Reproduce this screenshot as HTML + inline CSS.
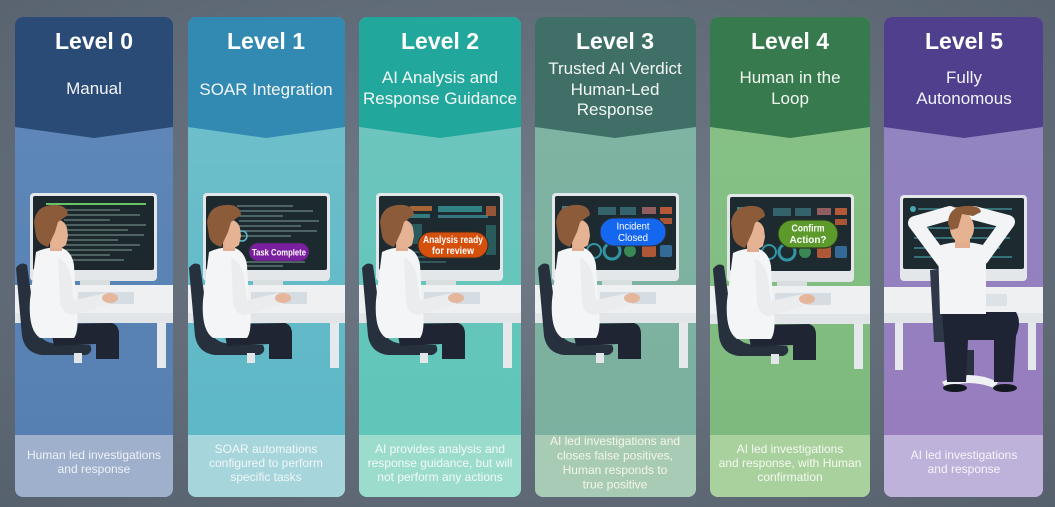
<!DOCTYPE html>
<html><head><meta charset="utf-8"><style>
html,body{margin:0;padding:0;background:#5f6a76;}
svg{display:block;}
text{font-family:"Liberation Sans",Arial,sans-serif;}
</style></head><body>
<svg width="1055" height="507" viewBox="0 0 1055 507" xmlns="http://www.w3.org/2000/svg">
<defs>
<radialGradient id="bg" cx="0.5" cy="0.45" r="0.75">
<stop offset="0" stop-color="#717c88"/><stop offset="1" stop-color="#56616d"/>
</radialGradient>
<clipPath id="k0"><rect x="15" y="17" width="158" height="480" rx="8"/></clipPath>
<clipPath id="k1"><rect x="188" y="17" width="157" height="480" rx="8"/></clipPath>
<clipPath id="k2"><rect x="359" y="17" width="162" height="480" rx="8"/></clipPath>
<clipPath id="k3"><rect x="535" y="17" width="161" height="480" rx="8"/></clipPath>
<clipPath id="k4"><rect x="710" y="17" width="160" height="480" rx="8"/></clipPath>
<clipPath id="k5"><rect x="884" y="17" width="159" height="480" rx="8"/></clipPath>
<linearGradient id="b0" x1="0" y1="0" x2="0" y2="1"><stop offset="0" stop-color="#6189bb"/><stop offset="1" stop-color="#547fb0"/></linearGradient>
<linearGradient id="b1" x1="0" y1="0" x2="0" y2="1"><stop offset="0" stop-color="#72c1cb"/><stop offset="1" stop-color="#5ab6c6"/></linearGradient>
<linearGradient id="b2" x1="0" y1="0" x2="0" y2="1"><stop offset="0" stop-color="#72c5bf"/><stop offset="1" stop-color="#5cc6b8"/></linearGradient>
<linearGradient id="b3" x1="0" y1="0" x2="0" y2="1"><stop offset="0" stop-color="#80b4a3"/><stop offset="1" stop-color="#7bb09f"/></linearGradient>
<linearGradient id="b4" x1="0" y1="0" x2="0" y2="1"><stop offset="0" stop-color="#89c388"/><stop offset="1" stop-color="#7cb87b"/></linearGradient>
<linearGradient id="b5" x1="0" y1="0" x2="0" y2="1"><stop offset="0" stop-color="#8e87c1"/><stop offset="1" stop-color="#9a7bbe"/></linearGradient>
</defs>
<rect width="1055" height="507" fill="url(#bg)"/>

<!-- ============ COLUMN 0 ============ -->
<g clip-path="url(#k0)">
<rect x="15" y="17" width="158" height="480" fill="url(#b0)"/>
<polygon points="15,17 173,17 173,127 94,138 15,127" fill="#2b4b77"/>
<rect x="15" y="435" width="158" height="62" fill="#9eb0cb"/>
<g>
<rect x="30" y="193" width="127" height="88" rx="4" fill="#e3e7ea"/>
<rect x="33" y="196" width="121" height="74" rx="2" fill="#1c282e"/>
<line x1="46" y1="204" x2="146" y2="204" stroke="#66c566" stroke-width="2"/>
<g stroke="#8fb0a0" stroke-width="1.2" opacity="0.7">
<line x1="64" y1="210" x2="120" y2="210"/><line x1="64" y1="215" x2="140" y2="215"/><line x1="64" y1="220" x2="110" y2="220"/><line x1="66" y1="225" x2="146" y2="225"/><line x1="66" y1="230" x2="128" y2="230"/><line x1="66" y1="235" x2="144" y2="235"/><line x1="66" y1="240" x2="118" y2="240"/><line x1="66" y1="245" x2="140" y2="245"/><line x1="66" y1="250" x2="132" y2="250"/><line x1="66" y1="255" x2="110" y2="255"/><line x1="66" y1="260" x2="124" y2="260"/>
</g>
<rect x="80" y="280" width="30" height="7" fill="#d8dde0"/>
<rect x="0" y="285" width="190" height="38" fill="#eef0f1"/>
<rect x="0" y="313" width="190" height="10" fill="#e1e5e7"/>
<rect x="157" y="323" width="9" height="45" fill="#e6e9eb"/>
<rect x="78" y="292" width="56" height="12" rx="1" fill="#d5dce2"/>
<path d="M16,268 Q21,261 27,265 L36,328 Q40,343 58,344 L90,345 Q94,352 86,355 L42,355 Q25,353 22,336 Z" fill="#27313e"/>
<rect x="74" y="353" width="8" height="10" fill="#e3e6e9"/>
<path d="M50,324 L112,323 Q119,325 119,334 L119,359 L96,359 L96,344 L54,346 Z" fill="#1f2533"/>
<path d="M36,252 Q48,246 62,248 Q72,252 74,265 L76,300 Q80,330 74,338 L40,338 Q28,330 30,300 Z" fill="#f4f5f6"/>
<path d="M58,258 Q70,262 72,285 L74,300 L106,293 L110,304 L72,315 Q61,314 60,300 Z" fill="#eaecee"/>
<ellipse cx="110" cy="298" rx="8" ry="5" fill="#e6b69c"/>
<rect x="50" y="238" width="12" height="13" fill="#e2ad8e"/>
<path d="M52,220 Q64,218 67,228 L68,236 L66,245 Q60,250 52,248 Z" fill="#e6b294"/>
<path d="M34,222 Q36,206 52,205 Q67,204 68,215 L58,222 L55,232 L48,247 Q38,244 36,236 Z" fill="#8c5b3a"/>
</g>
</g>
<text x="94" y="49" font-size="23" font-weight="bold" fill="#fff" text-anchor="middle">Level 0</text>
<text x="94" y="94" font-size="17" fill="#f2f4f8" text-anchor="middle">Manual</text>
<text x="94" y="459" font-size="12" fill="#eef1f6" text-anchor="middle">Human led investigations</text>
<text x="94" y="473" font-size="12" fill="#eef1f6" text-anchor="middle">and response</text>

<!-- ============ COLUMN 1 ============ -->
<g clip-path="url(#k1)">
<rect x="188" y="17" width="157" height="480" fill="url(#b1)"/>
<polygon points="188,17 345,17 345,127 266,138 188,127" fill="#3289b1"/>
<rect x="188" y="435" width="157" height="62" fill="#a6d6dc"/>
<g transform="translate(173,0)">
<rect x="30" y="193" width="127" height="88" rx="4" fill="#e3e7ea"/>
<rect x="33" y="196" width="121" height="74" rx="2" fill="#1c2a30"/>
<g stroke="#8fb0a8" stroke-width="1.2" opacity="0.7">
<line x1="64" y1="206" x2="120" y2="206"/><line x1="64" y1="211" x2="140" y2="211"/><line x1="64" y1="216" x2="110" y2="216"/><line x1="66" y1="221" x2="146" y2="221"/><line x1="66" y1="226" x2="128" y2="226"/><line x1="66" y1="231" x2="144" y2="231"/><line x1="66" y1="236" x2="118" y2="236"/><line x1="66" y1="262" x2="132" y2="262"/><line x1="66" y1="266" x2="110" y2="266"/>
</g>
<circle cx="69" cy="236" r="5" fill="none" stroke="#5fb8c8" stroke-width="1.5"/>
<rect x="80" y="280" width="30" height="7" fill="#d8dde0"/>
<rect x="-10" y="285" width="200" height="38" fill="#eef0f1"/>
<rect x="-10" y="313" width="200" height="10" fill="#e1e5e7"/>
<rect x="157" y="323" width="9" height="45" fill="#e6e9eb"/>
<rect x="78" y="292" width="56" height="12" rx="1" fill="#d5dce2"/>
<path d="M16,268 Q21,261 27,265 L36,328 Q40,343 58,344 L90,345 Q94,352 86,355 L42,355 Q25,353 22,336 Z" fill="#27313e"/>
<rect x="74" y="353" width="8" height="10" fill="#e3e6e9"/>
<path d="M50,324 L112,323 Q119,325 119,334 L119,359 L96,359 L96,344 L54,346 Z" fill="#1f2533"/>
<path d="M36,252 Q48,246 62,248 Q72,252 74,265 L76,300 Q80,330 74,338 L40,338 Q28,330 30,300 Z" fill="#f4f5f6"/>
<path d="M58,258 Q70,262 72,285 L74,300 L106,293 L110,304 L72,315 Q61,314 60,300 Z" fill="#eaecee"/>
<ellipse cx="110" cy="298" rx="8" ry="5" fill="#e6b69c"/>
<rect x="50" y="238" width="12" height="13" fill="#e2ad8e"/>
<path d="M52,220 Q64,218 67,228 L68,236 L66,245 Q60,250 52,248 Z" fill="#e6b294"/>
<path d="M34,222 Q36,206 52,205 Q67,204 68,215 L58,222 L55,232 L48,247 Q38,244 36,236 Z" fill="#8c5b3a"/>
</g>
<rect x="249" y="243" width="60" height="18" rx="9" fill="#7a1fa0" stroke="#3a2a48" stroke-width="0.8"/>
<text x="279" y="255.5" font-size="9.5" font-weight="bold" fill="#fff" text-anchor="middle" textLength="54" lengthAdjust="spacingAndGlyphs">Task Complete</text>
</g>
<text x="266" y="49" font-size="23" font-weight="bold" fill="#fff" text-anchor="middle">Level 1</text>
<text x="266" y="95" font-size="17" fill="#f2f6f8" text-anchor="middle">SOAR Integration</text>
<text x="266" y="453" font-size="12" fill="#f0f6f8" text-anchor="middle">SOAR automations</text>
<text x="266" y="467" font-size="12" fill="#f0f6f8" text-anchor="middle">configured to perform</text>
<text x="266" y="481" font-size="12" fill="#f0f6f8" text-anchor="middle">specific tasks</text>

<!-- ============ COLUMN 2 ============ -->
<g clip-path="url(#k2)">
<rect x="359" y="17" width="162" height="480" fill="url(#b2)"/>
<polygon points="359,17 521,17 521,127 440,138 359,127" fill="#22a79c"/>
<rect x="359" y="435" width="162" height="62" fill="#9bdccd"/>
<g transform="translate(346,0)">
<rect x="30" y="193" width="127" height="88" rx="4" fill="#e3e7ea"/>
<rect x="33" y="196" width="121" height="74" rx="2" fill="#1d2b30"/>
<rect x="64" y="206" width="22" height="5" fill="#c8743a" opacity="0.8"/>
<rect x="64" y="214" width="20" height="4" fill="#3aa0a0" opacity="0.7"/>
<rect x="92" y="206" width="44" height="6" fill="#3aa8a8" opacity="0.7"/>
<rect x="92" y="215" width="50" height="3" fill="#4aa8b8" opacity="0.6"/>
<rect x="140" y="206" width="10" height="10" fill="#c86a3a" opacity="0.7"/>
<rect x="64" y="224" width="12" height="20" fill="#2f6f6f" opacity="0.7"/>
<rect x="140" y="225" width="10" height="30" fill="#2f6f6f" opacity="0.7"/>
<g stroke="#58a0a0" stroke-width="1.2" opacity="0.6"><line x1="64" y1="252" x2="90" y2="252"/><line x1="64" y1="257" x2="85" y2="257"/><line x1="64" y1="262" x2="100" y2="262"/></g>
<rect x="80" y="280" width="30" height="7" fill="#d8dde0"/>
<rect x="-10" y="285" width="200" height="38" fill="#eef0f1"/>
<rect x="-10" y="313" width="200" height="10" fill="#e1e5e7"/>
<rect x="157" y="323" width="9" height="45" fill="#e6e9eb"/>
<rect x="78" y="292" width="56" height="12" rx="1" fill="#d5dce2"/>
<path d="M16,268 Q21,261 27,265 L36,328 Q40,343 58,344 L90,345 Q94,352 86,355 L42,355 Q25,353 22,336 Z" fill="#27313e"/>
<rect x="74" y="353" width="8" height="10" fill="#e3e6e9"/>
<path d="M50,324 L112,323 Q119,325 119,334 L119,359 L96,359 L96,344 L54,346 Z" fill="#1f2533"/>
<path d="M36,252 Q48,246 62,248 Q72,252 74,265 L76,300 Q80,330 74,338 L40,338 Q28,330 30,300 Z" fill="#f4f5f6"/>
<path d="M58,258 Q70,262 72,285 L74,300 L106,293 L110,304 L72,315 Q61,314 60,300 Z" fill="#eaecee"/>
<ellipse cx="110" cy="298" rx="8" ry="5" fill="#e6b69c"/>
<rect x="50" y="238" width="12" height="13" fill="#e2ad8e"/>
<path d="M52,220 Q64,218 67,228 L68,236 L66,245 Q60,250 52,248 Z" fill="#e6b294"/>
<path d="M34,222 Q36,206 52,205 Q67,204 68,215 L58,222 L55,232 L48,247 Q38,244 36,236 Z" fill="#8c5b3a"/>
</g>
<rect x="418" y="232" width="70" height="26" rx="13" fill="#d4500c" stroke="#3a2a20" stroke-width="1"/>
<text x="453" y="243" font-size="10" font-weight="bold" fill="#fff" text-anchor="middle" textLength="60" lengthAdjust="spacingAndGlyphs">Analysis ready</text>
<text x="453" y="254" font-size="10" font-weight="bold" fill="#fff" text-anchor="middle" textLength="42" lengthAdjust="spacingAndGlyphs">for review</text>
</g>
<text x="440" y="49" font-size="23" font-weight="bold" fill="#fff" text-anchor="middle">Level 2</text>
<text x="440" y="83" font-size="17" fill="#f2f8f6" text-anchor="middle">AI Analysis and</text>
<text x="440" y="104" font-size="17" fill="#f2f8f6" text-anchor="middle">Response Guidance</text>
<text x="440" y="453" font-size="12" fill="#f2faf8" text-anchor="middle">AI provides analysis and</text>
<text x="440" y="467" font-size="12" fill="#f2faf8" text-anchor="middle">response guidance, but will</text>
<text x="440" y="481" font-size="12" fill="#f2faf8" text-anchor="middle">not perform any actions</text>

<!-- ============ COLUMN 3 ============ -->
<g clip-path="url(#k3)">
<rect x="535" y="17" width="161" height="480" fill="url(#b3)"/>
<polygon points="535,17 696,17 696,127 615,138 535,127" fill="#3f6f67"/>
<rect x="535" y="435" width="161" height="62" fill="#a8cbb5"/>
<g transform="translate(522,0)">
<rect x="30" y="193" width="127" height="88" rx="4" fill="#e3e7ea"/>
<rect x="33" y="196" width="121" height="74" rx="2" fill="#1d2b30"/>
<rect x="40" y="206" width="14" height="4" fill="#5aa0a8" opacity="0.7"/>
<rect x="76" y="207" width="18" height="8" fill="#3f7c84" opacity="0.7"/>
<rect x="98" y="207" width="16" height="8" fill="#3f7c84" opacity="0.7"/>
<rect x="120" y="207" width="14" height="7" fill="#b06a6a" opacity="0.8"/>
<rect x="138" y="207" width="12" height="7" fill="#d0603a" opacity="0.85"/>
<rect x="138" y="218" width="12" height="6" fill="#d0603a" opacity="0.8"/>
<circle cx="72" cy="251" r="7" fill="none" stroke="#3ab0c0" stroke-width="2" opacity="0.8"/>
<circle cx="90" cy="251" r="8" fill="none" stroke="#3ab0c0" stroke-width="3" opacity="0.8"/>
<circle cx="108" cy="251" r="6" fill="#3f9a5a" opacity="0.85"/>
<rect x="120" y="245" width="14" height="12" rx="2" fill="#c8603a" opacity="0.85"/>
<rect x="138" y="245" width="12" height="12" rx="2" fill="#3a7ab0" opacity="0.8"/>
<rect x="80" y="280" width="30" height="7" fill="#d8dde0"/>
<rect x="-10" y="285" width="200" height="38" fill="#eef0f1"/>
<rect x="-10" y="313" width="200" height="10" fill="#e1e5e7"/>
<rect x="157" y="323" width="9" height="45" fill="#e6e9eb"/>
<rect x="78" y="292" width="56" height="12" rx="1" fill="#d5dce2"/>
<path d="M16,268 Q21,261 27,265 L36,328 Q40,343 58,344 L90,345 Q94,352 86,355 L42,355 Q25,353 22,336 Z" fill="#27313e"/>
<rect x="74" y="353" width="8" height="10" fill="#e3e6e9"/>
<path d="M50,324 L112,323 Q119,325 119,334 L119,359 L96,359 L96,344 L54,346 Z" fill="#1f2533"/>
<path d="M36,252 Q48,246 62,248 Q72,252 74,265 L76,300 Q80,330 74,338 L40,338 Q28,330 30,300 Z" fill="#f4f5f6"/>
<path d="M58,258 Q70,262 72,285 L74,300 L106,293 L110,304 L72,315 Q61,314 60,300 Z" fill="#eaecee"/>
<ellipse cx="110" cy="298" rx="8" ry="5" fill="#e6b69c"/>
<rect x="50" y="238" width="12" height="13" fill="#e2ad8e"/>
<path d="M52,220 Q64,218 67,228 L68,236 L66,245 Q60,250 52,248 Z" fill="#e6b294"/>
<path d="M34,222 Q36,206 52,205 Q67,204 68,215 L58,222 L55,232 L48,247 Q38,244 36,236 Z" fill="#8c5b3a"/>
</g>
<rect x="600" y="218" width="66" height="28" rx="14" fill="#1467ee" stroke="#2a3040" stroke-width="1"/>
<text x="633" y="229.5" font-size="10" fill="#fff" text-anchor="middle" textLength="33" lengthAdjust="spacingAndGlyphs">Incident</text>
<text x="633" y="241" font-size="10" fill="#fff" text-anchor="middle" textLength="30" lengthAdjust="spacingAndGlyphs">Closed</text>
</g>
<text x="615" y="49" font-size="23" font-weight="bold" fill="#fff" text-anchor="middle">Level 3</text>
<text x="615" y="74" font-size="17" fill="#f2f6f4" text-anchor="middle">Trusted AI Verdict</text>
<text x="615" y="95" font-size="17" fill="#f2f6f4" text-anchor="middle">Human-Led</text>
<text x="615" y="115" font-size="17" fill="#f2f6f4" text-anchor="middle">Response</text>
<text x="615" y="445" font-size="12" fill="#f4f6e6" text-anchor="middle">AI led investigations and</text>
<text x="615" y="459.5" font-size="12" fill="#f4f6e6" text-anchor="middle">closes false positives,</text>
<text x="615" y="474" font-size="12" fill="#f4f6e6" text-anchor="middle">Human responds to</text>
<text x="615" y="488.5" font-size="12" fill="#f4f6e6" text-anchor="middle">true positive</text>

<!-- ============ COLUMN 4 ============ -->
<g clip-path="url(#k4)">
<rect x="710" y="17" width="160" height="480" fill="url(#b4)"/>
<polygon points="710,17 870,17 870,127 790,138 710,127" fill="#377a4e"/>
<rect x="710" y="435" width="160" height="62" fill="#a9d19d"/>
<g transform="translate(697,1)">
<rect x="30" y="193" width="127" height="88" rx="4" fill="#e3e7ea"/>
<rect x="33" y="196" width="121" height="74" rx="2" fill="#1d2b30"/>
<rect x="40" y="206" width="14" height="4" fill="#5aa0a8" opacity="0.7"/>
<rect x="76" y="207" width="18" height="8" fill="#3f7c84" opacity="0.7"/>
<rect x="98" y="207" width="16" height="8" fill="#3f7c84" opacity="0.7"/>
<rect x="120" y="207" width="14" height="7" fill="#b06a6a" opacity="0.8"/>
<rect x="138" y="207" width="12" height="7" fill="#d0603a" opacity="0.85"/>
<rect x="138" y="218" width="12" height="6" fill="#d0603a" opacity="0.8"/>
<circle cx="72" cy="251" r="7" fill="none" stroke="#3ab0c0" stroke-width="2" opacity="0.8"/>
<circle cx="90" cy="251" r="8" fill="none" stroke="#3ab0c0" stroke-width="3" opacity="0.8"/>
<circle cx="108" cy="251" r="6" fill="#3f9a5a" opacity="0.85"/>
<rect x="120" y="245" width="14" height="12" rx="2" fill="#c8603a" opacity="0.85"/>
<rect x="138" y="245" width="12" height="12" rx="2" fill="#3a7ab0" opacity="0.8"/>
<rect x="80" y="280" width="30" height="7" fill="#d8dde0"/>
<rect x="-10" y="285" width="200" height="38" fill="#eef0f1"/>
<rect x="-10" y="313" width="200" height="10" fill="#e1e5e7"/>
<rect x="157" y="323" width="9" height="45" fill="#e6e9eb"/>
<rect x="78" y="292" width="56" height="12" rx="1" fill="#d5dce2"/>
<path d="M16,268 Q21,261 27,265 L36,328 Q40,343 58,344 L90,345 Q94,352 86,355 L42,355 Q25,353 22,336 Z" fill="#27313e"/>
<rect x="74" y="353" width="8" height="10" fill="#e3e6e9"/>
<path d="M50,324 L112,323 Q119,325 119,334 L119,359 L96,359 L96,344 L54,346 Z" fill="#1f2533"/>
<path d="M36,252 Q48,246 62,248 Q72,252 74,265 L76,300 Q80,330 74,338 L40,338 Q28,330 30,300 Z" fill="#f4f5f6"/>
<path d="M58,258 Q70,262 72,285 L74,300 L106,293 L110,304 L72,315 Q61,314 60,300 Z" fill="#eaecee"/>
<ellipse cx="110" cy="298" rx="8" ry="5" fill="#e6b69c"/>
<rect x="50" y="238" width="12" height="13" fill="#e2ad8e"/>
<path d="M52,220 Q64,218 67,228 L68,236 L66,245 Q60,250 52,248 Z" fill="#e6b294"/>
<path d="M34,222 Q36,206 52,205 Q67,204 68,215 L58,222 L55,232 L48,247 Q38,244 36,236 Z" fill="#8c5b3a"/>
</g>
<rect x="778" y="220" width="60" height="28" rx="14" fill="#5b9a2b" stroke="#2a3a20" stroke-width="1.2"/>
<text x="808" y="231.5" font-size="10" font-weight="bold" fill="#fff" text-anchor="middle" textLength="33" lengthAdjust="spacingAndGlyphs">Confirm</text>
<text x="808" y="243" font-size="10" font-weight="bold" fill="#fff" text-anchor="middle" textLength="37" lengthAdjust="spacingAndGlyphs">Action?</text>
</g>
<text x="790" y="49" font-size="23" font-weight="bold" fill="#fff" text-anchor="middle">Level 4</text>
<text x="790" y="83" font-size="17" fill="#f2f8f2" text-anchor="middle">Human in the</text>
<text x="790" y="104" font-size="17" fill="#f2f8f2" text-anchor="middle">Loop</text>
<text x="790" y="453" font-size="12" fill="#f4f9f0" text-anchor="middle">AI led investigations</text>
<text x="790" y="467" font-size="12" fill="#f4f9f0" text-anchor="middle">and response, with Human</text>
<text x="790" y="481" font-size="12" fill="#f4f9f0" text-anchor="middle">confirmation</text>

<!-- ============ COLUMN 5 ============ -->
<g clip-path="url(#k5)">
<rect x="884" y="17" width="159" height="480" fill="url(#b5)"/>
<polygon points="884,17 1043,17 1043,127 964,138 884,127" fill="#4f3f8c"/>
<rect x="884" y="435" width="159" height="62" fill="#bfb2da"/>
<rect x="900" y="195" width="127" height="86" rx="4" fill="#e3e7ea"/>
<rect x="903" y="198" width="121" height="71" rx="2" fill="#1d2b30"/>
<g stroke="#4aa8b0" stroke-width="1.5" opacity="0.75">
<line x1="918" y1="209" x2="1012" y2="209"/><line x1="914" y1="218" x2="1010" y2="218"/><line x1="914" y1="228" x2="1006" y2="228"/><line x1="914" y1="238" x2="1010" y2="238"/><line x1="914" y1="248" x2="1000" y2="248"/><line x1="914" y1="257" x2="1012" y2="257"/>
</g>
<rect x="944" y="207" width="24" height="4" fill="#d08a5a" opacity="0.8"/>
<circle cx="913" cy="209" r="3" fill="#4aa8b0"/>
<rect x="870" y="287" width="190" height="36" fill="#eef0f1"/>
<rect x="870" y="313" width="190" height="10" fill="#e1e5e7"/>
<rect x="895" y="323" width="8" height="47" fill="#e6e9eb"/>
<rect x="1028" y="323" width="8" height="47" fill="#e6e9eb"/>
<rect x="985" y="294" width="22" height="12" fill="#dde2e6"/>
<path d="M930,270 L945,268 L950,342 L934,342 Z" fill="#2e3848"/>
<rect x="966" y="350" width="8" height="28" fill="#2a3240"/>
<path d="M942,382 Q968,368 998,382 L994,388 Q968,378 946,388 Z" fill="#f0f1f4"/>
<path d="M942,312 L1016,312 Q1022,322 1016,336 L1013,382 L994,382 L994,340 L968,340 L966,382 L947,382 L944,338 Z" fill="#1e2434"/>
<ellipse cx="955" cy="388" rx="12" ry="4" fill="#151a22"/>
<ellipse cx="1005" cy="388" rx="12" ry="4" fill="#151a22"/>
<path d="M938,246 Q962,238 986,246 L986,314 L940,314 Z" fill="#f3f4f5"/>
<polyline points="944,262 915,223 950,213" fill="none" stroke="#f3f4f5" stroke-width="14" stroke-linecap="round" stroke-linejoin="round"/>
<polyline points="982,258 1008,222 974,213" fill="none" stroke="#f3f4f5" stroke-width="14" stroke-linecap="round" stroke-linejoin="round"/>
<rect x="955" y="236" width="15" height="12" fill="#e2ad8e"/>
<ellipse cx="962" cy="228" rx="12" ry="15" fill="#e5b392"/>
<path d="M948,224 Q948,207 965,206 Q980,205 981,212 L973,216 L962,214 L958,228 L951,230 Z" fill="#8c5b3a"/>
</g>
<text x="964" y="49" font-size="23" font-weight="bold" fill="#fff" text-anchor="middle">Level 5</text>
<text x="964" y="83" font-size="17" fill="#f4f2fa" text-anchor="middle">Fully</text>
<text x="964" y="104" font-size="17" fill="#f4f2fa" text-anchor="middle">Autonomous</text>
<text x="964" y="459" font-size="12" fill="#f6f4fb" text-anchor="middle">AI led investigations</text>
<text x="964" y="473" font-size="12" fill="#f6f4fb" text-anchor="middle">and response</text>
</svg>
</body></html>
